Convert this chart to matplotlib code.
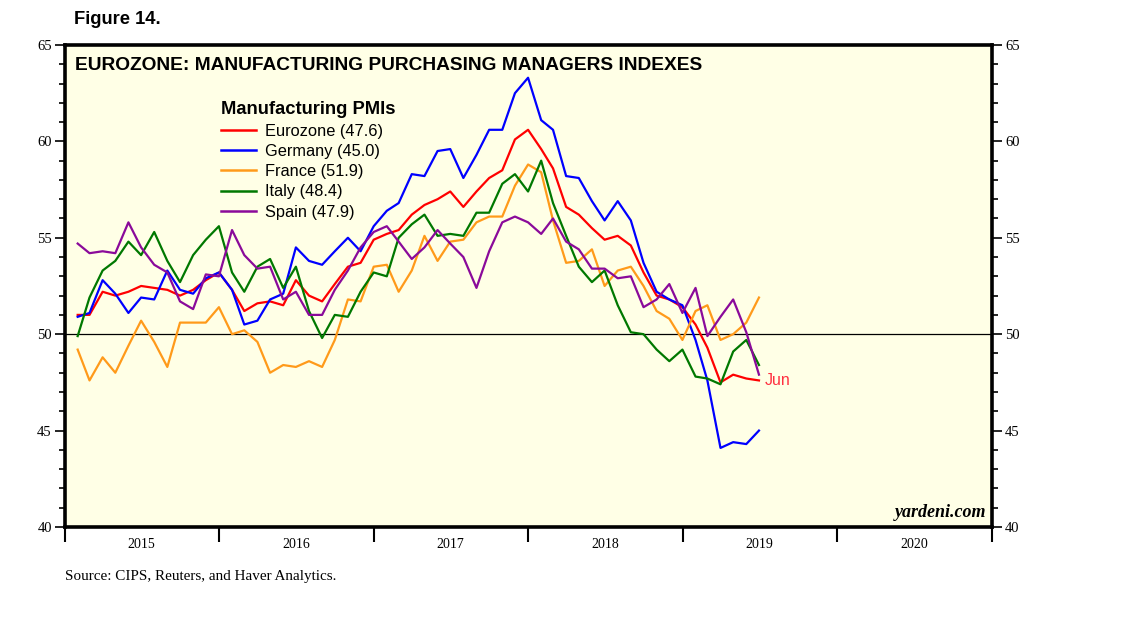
import pandas as pd
import numpy as np
import matplotlib
matplotlib.use("Agg")
import matplotlib.pyplot as plt


''' Data (monthly, Jan 2015 - Jun 2019) '''
months = pd.date_range("2015-01-31", "2019-06-30", freq="ME")

eurozone = [51.0, 51.0, 52.2, 52.0, 52.2, 52.5, 52.4, 52.3, 52.0, 52.3, 52.8, 53.2,
            52.3, 51.2, 51.6, 51.7, 51.5, 52.8, 52.0, 51.7, 52.6, 53.5, 53.7, 54.9,
            55.2, 55.4, 56.2, 56.7, 57.0, 57.4, 56.6, 57.4, 58.1, 58.5, 60.1, 60.6,
            59.6, 58.6, 56.6, 56.2, 55.5, 54.9, 55.1, 54.6, 53.2, 52.0, 51.8, 51.4,
            50.5, 49.3, 47.5, 47.9, 47.7, 47.6]
germany = [50.9, 51.1, 52.8, 52.1, 51.1, 51.9, 51.8, 53.3, 52.3, 52.1, 52.9, 53.2,
           52.3, 50.5, 50.7, 51.8, 52.1, 54.5, 53.8, 53.6, 54.3, 55.0, 54.3, 55.6,
           56.4, 56.8, 58.3, 58.2, 59.5, 59.6, 58.1, 59.3, 60.6, 60.6, 62.5, 63.3,
           61.1, 60.6, 58.2, 58.1, 56.9, 55.9, 56.9, 55.9, 53.7, 52.2, 51.8, 51.5,
           49.7, 47.6, 44.1, 44.4, 44.3, 45.0]
france = [49.2, 47.6, 48.8, 48.0, 49.4, 50.7, 49.6, 48.3, 50.6, 50.6, 50.6, 51.4,
          50.0, 50.2, 49.6, 48.0, 48.4, 48.3, 48.6, 48.3, 49.7, 51.8, 51.7, 53.5,
          53.6, 52.2, 53.3, 55.1, 53.8, 54.8, 54.9, 55.8, 56.1, 56.1, 57.7, 58.8,
          58.4, 55.9, 53.7, 53.8, 54.4, 52.5, 53.3, 53.5, 52.5, 51.2, 50.8, 49.7,
          51.2, 51.5, 49.7, 50.0, 50.6, 51.9]
italy = [49.9, 51.9, 53.3, 53.8, 54.8, 54.1, 55.3, 53.8, 52.7, 54.1, 54.9, 55.6,
         53.2, 52.2, 53.5, 53.9, 52.4, 53.5, 51.2, 49.8, 51.0, 50.9, 52.2, 53.2,
         53.0, 55.0, 55.7, 56.2, 55.1, 55.2, 55.1, 56.3, 56.3, 57.8, 58.3, 57.4,
         59.0, 56.8, 55.1, 53.5, 52.7, 53.3, 51.5, 50.1, 50.0, 49.2, 48.6, 49.2,
         47.8, 47.7, 47.4, 49.1, 49.7, 48.4]
spain = [54.7, 54.2, 54.3, 54.2, 55.8, 54.5, 53.6, 53.2, 51.7, 51.3, 53.1, 53.0,
         55.4, 54.1, 53.4, 53.5, 51.8, 52.2, 51.0, 51.0, 52.3, 53.3, 54.5, 55.3,
         55.6, 54.8, 53.9, 54.5, 55.4, 54.7, 54.0, 52.4, 54.3, 55.8, 56.1, 55.8,
         55.2, 56.0, 54.8, 54.4, 53.4, 53.4, 52.9, 53.0, 51.4, 51.8, 52.6, 51.1,
         52.4, 49.9, 50.9, 51.8, 50.1, 47.9]

names = ["Eurozone", "Germany", "France", "Italy", "Spain"]
series = [eurozone, germany, france, italy, spain]
colors = ["#ff0000", "#0000ff", "#ff9a1a", "#007800", "#8a0a9a"]
years = [2015, 2016, 2017, 2018, 2019, 2020]


''' Plot '''
fig = plt.figure(figsize=(11.38, 6.21), dpi=100)
ax = fig.add_axes([0.0571, 0.1514, 0.8146, 0.7762])
ax.set_facecolor("#ffffe6")

for name, vals, c in zip(names, series, colors):
    ax.plot(months, vals, color=c, lw=1.6, label=f"{name} ({vals[-1]:.1f})")

ax.axhline(50, color="black", lw=0.9, zorder=1)

ax.set_ylim(40, 65)
ax.set_xlim(pd.Timestamp("2015-01-01"), pd.Timestamp("2021-01-01"))

# frame
for s in ax.spines.values():
    s.set_linewidth(2.6)

# y axis on both sides
ax.set_yticks(range(40, 66, 5))
ax.set_yticks(range(40, 66), minor=True)
ax.tick_params(axis="y", which="major", direction="out", length=7.5, width=1.2,
               labelsize=10.5, left=True, right=True, labelleft=True, labelright=True, pad=2)
ax.tick_params(axis="y", which="minor", direction="out", length=4, width=1.2,
               left=True, right=True)
for lab in ax.get_yticklabels():
    lab.set_fontfamily("Liberation Serif")

# x axis: year boundaries as ticks, labels centred between them
ax.set_xticks([pd.Timestamp(f"{y}-01-01") for y in years + [2021]])
ax.set_xticks([pd.Timestamp(f"{y}-07-01") for y in years], minor=True)
ax.set_xticklabels([])
ax.set_xticklabels([str(y) for y in years], minor=True, fontfamily="Liberation Serif",
                   fontsize=10)
ax.tick_params(axis="x", which="major", direction="out", length=11, width=1.5)
ax.tick_params(axis="x", which="minor", length=0, pad=8)

# texts
ax.text(0.011, 0.975, "EUROZONE: MANUFACTURING PURCHASING MANAGERS INDEXES",
        transform=ax.transAxes, fontsize=13.8, fontweight="bold",
        fontfamily="Liberation Sans", va="top", ha="left")
fig.text(0.065, 0.968, "Figure 14.", fontsize=13.2, fontweight="bold",
         fontfamily="Liberation Sans", va="center", ha="left")
fig.text(0.057, 0.071, "Source: CIPS, Reuters, and Haver Analytics.",
         fontsize=10.9, fontfamily="Liberation Serif", va="center", ha="left")
ax.text(0.994, 0.012, "yardeni.com", transform=ax.transAxes, fontsize=13,
        fontweight="bold", style="italic", fontfamily="Liberation Serif",
        ha="right", va="bottom")
ax.annotate("Jun", (months[-1], eurozone[-1]), xytext=(4, 0),
            textcoords="offset points", color="#ff3040", fontsize=11.5,
            fontfamily="Liberation Sans", va="center", ha="left")

leg = ax.legend(loc="upper left", bbox_to_anchor=(0.16, 0.9), frameon=False,
                title="Manufacturing PMIs", alignment="left", borderpad=0,
                handlelength=2.1, handletextpad=0.55, labelspacing=0.32,
                prop={"family": "Liberation Sans", "size": 11.8},
                title_fontproperties={"family": "Liberation Sans", "size": 13.2,
                                      "weight": "bold"})
for h in leg.get_lines():
    h.set_linewidth(1.8)

plt.savefig("out.png", dpi=100)
